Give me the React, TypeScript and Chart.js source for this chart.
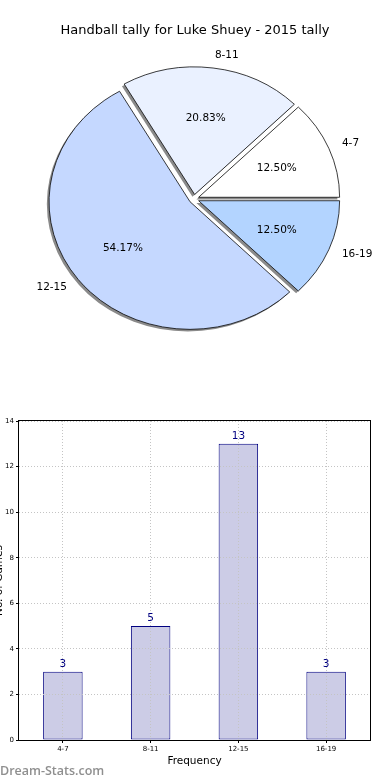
import React, { useEffect, useRef } from 'react';
import { Chart, registerables } from 'chart.js';

Chart.register(...registerables);

// ---- data ----
const TITLE = 'Handball tally for Luke Shuey - 2015 tally';
const categories = ['4-7', '8-11', '12-15', '16-19'];
const tallies = [3, 5, 13, 3];
const sliceColors = ['#ffffff', '#eaf1ff', '#c5d8ff', '#b3d4ff'];
const yTicks = [0, 2, 4, 6, 8, 10, 12, 14];
const X_TITLE = 'Frequency';
const Y_TITLE = 'No. of Games';
const WATERMARK = 'Dream-Stats.com';

// ---- style ----
const FONT = '"DejaVu Sans", Verdana, sans-serif';
const SY = 0.905; // vertical squash of the (non-equal-aspect) pie
const PIE_R = 141;
const EXPLODE = 5; // px each wedge is pulled out along its mid-angle
const SHADOW_DX = -2.2;
const SHADOW_DY = 2.2;
const pieOrder = [3, 2, 1, 0]; // Chart.js draws clockwise from 3 o'clock

function pieCenter(chart: any) {
  const a = chart.chartArea;
  return { cx: (a.left + a.right) / 2, cy: (a.top + a.bottom) / 2 };
}

const piePlugin = {
  id: 'pieDecor',
  afterUpdate(chart: any) {
    // explode each wedge: move its element centre outward along the mid-angle
    const arcs = chart.getDatasetMeta(0).data;
    const { cx, cy } = pieCenter(chart);
    arcs.forEach((a: any) => {
      const mid = (a.startAngle + a.endAngle) / 2;
      a.x = cx + Math.cos(mid) * EXPLODE;
      a.y = cy + Math.sin(mid) * EXPLODE;
    });
  },
  beforeDatasetsDraw(chart: any) {
    const ctx = chart.ctx;
    const arcs = chart.getDatasetMeta(0).data;
    const { cx, cy } = pieCenter(chart);
    ctx.save();
    // shadows
    ctx.save();
    ctx.translate(SHADOW_DX, SHADOW_DY);
    ctx.translate(cx, cy);
    ctx.scale(1, SY);
    ctx.translate(-cx, -cy);
    ctx.fillStyle = '#8a8a8a';
    arcs.forEach((a: any) => {
      ctx.beginPath();
      ctx.moveTo(a.x, a.y);
      ctx.arc(a.x, a.y, a.outerRadius, a.startAngle, a.endAngle);
      ctx.closePath();
      ctx.fill();
    });
    ctx.restore();
    ctx.translate(cx, cy);
    ctx.scale(1, SY);
    ctx.translate(-cx, -cy);
  },
  afterDatasetsDraw(chart: any) {
    const ctx = chart.ctx;
    ctx.restore();
    const arcs = chart.getDatasetMeta(0).data;
    const { cy } = pieCenter(chart);
    const total = tallies.reduce((s, v) => s + v, 0);
    ctx.save();
    ctx.fillStyle = '#000';
    ctx.textBaseline = 'middle';
    ctx.font = `10.5px ${FONT}`;
    arcs.forEach((a: any, k: number) => {
      const idx = pieOrder[k];
      const mid = (a.startAngle + a.endAngle) / 2;
      const c = Math.cos(mid);
      const s = Math.sin(mid);
      const r = a.outerRadius;
      const ox = a.x;
      const oy = cy + (a.y - cy) * SY;
      ctx.textAlign = c > 0 ? 'left' : 'right';
      ctx.fillText(categories[idx], ox + 1.1 * r * c, oy + 1.1 * r * s * SY);
      ctx.textAlign = 'center';
      const pct = (tallies[idx] / total) * 100;
      ctx.fillText(pct.toFixed(2) + '%', ox + 0.6 * r * c, oy + 0.6 * r * s * SY);
    });
    ctx.font = `13px ${FONT}`;
    ctx.textAlign = 'center';
    ctx.textBaseline = 'alphabetic';
    ctx.fillText(TITLE, chart.width / 2, 34);
    ctx.restore();
  },
};

const barPlugin = {
  id: 'barDecor',
  afterDraw(chart: any) {
    const ctx = chart.ctx;
    const { left, right, top, bottom } = chart.chartArea;
    ctx.save();
    // frame
    ctx.strokeStyle = '#000';
    ctx.lineWidth = 1;
    ctx.strokeRect(
      Math.round(left) - 0.5,
      Math.round(top) - 0.5,
      Math.round(right) - Math.round(left) + 1,
      Math.round(bottom) - Math.round(top) + 1
    );
    // value labels
    const meta = chart.getDatasetMeta(0);
    ctx.fillStyle = '#000080';
    ctx.font = `10.5px ${FONT}`;
    ctx.textAlign = 'center';
    ctx.textBaseline = 'alphabetic';
    meta.data.forEach((bar: any, i: number) => {
      ctx.fillText(String(tallies[i]), bar.x, bar.y - 5);
    });
    // x title
    ctx.fillStyle = '#000';
    ctx.font = `10.5px ${FONT}`;
    ctx.fillText(X_TITLE, (left + right) / 2, bottom + 24);
    // y title (mostly clipped at the left edge)
    ctx.save();
    ctx.translate(1.5, (top + bottom) / 2);
    ctx.rotate(-Math.PI / 2);
    ctx.textAlign = 'center';
    ctx.fillText(Y_TITLE, 0, 0);
    ctx.restore();
    // watermark
    ctx.fillStyle = '#8f8f8f';
    ctx.font = `600 12.5px "Open Sans", sans-serif`;
    ctx.textAlign = 'left';
    ctx.fillText(WATERMARK, 0, chart.height - 5);
    ctx.restore();
  },
};

export default function App() {
  const pieRef = useRef<HTMLCanvasElement>(null);
  const barRef = useRef<HTMLCanvasElement>(null);

  useEffect(() => {
    const pie = new Chart(pieRef.current as HTMLCanvasElement, {
      type: 'pie',
      data: {
        labels: pieOrder.map((i) => categories[i]),
        datasets: [
          {
            data: pieOrder.map((i) => tallies[i]),
            backgroundColor: pieOrder.map((i) => sliceColors[i]),
            borderColor: '#000',
            borderWidth: 0.8,
            offset: 0,
          },
        ],
      },
      options: {
        animation: false,
        responsive: false,
        events: [],
        rotation: 90,
        radius: PIE_R,
        layout: { padding: { left: 0, right: 2, top: 0, bottom: 2 } },
        plugins: { legend: { display: false }, tooltip: { enabled: false }, title: { display: false } },
      } as any,
      plugins: [piePlugin],
    });

    const gridCommon = { color: '#c4c4c4', z: 1, tickLength: 3, tickColor: '#000', drawTicks: true };
    const borderCommon = { display: false, color: '#000', width: 1, dash: [1, 2], z: 1 };
    const tickFont = { size: 7, family: FONT };

    const bar = new Chart(barRef.current as HTMLCanvasElement, {
      type: 'bar',
      data: {
        labels: categories,
        datasets: [
          {
            data: tallies,
            backgroundColor: '#ccccE6',
            borderColor: '#000080',
            borderWidth: 1,
            borderSkipped: false,
            barPercentage: 0.45,
            categoryPercentage: 1,
          },
        ],
      },
      options: {
        animation: false,
        responsive: false,
        events: [],
        layout: { padding: { top: 21, right: 20, left: 0, bottom: 0 } },
        plugins: { legend: { display: false }, tooltip: { enabled: false } },
        scales: {
          x: {
            offset: true,
            grid: { ...gridCommon, offset: false },
            border: borderCommon,
            ticks: { font: tickFont, color: '#000', padding: 2, maxRotation: 0, autoSkip: false },
            afterFit: (s: any) => {
              s.height = 40;
            },
          },
          y: {
            min: 0,
            max: 14,
            afterBuildTicks: (s: any) => {
              s.ticks = yTicks.map((v) => ({ value: v }));
            },
            grid: gridCommon,
            border: borderCommon,
            ticks: { font: tickFont, color: '#000', padding: 2 },
            afterFit: (s: any) => {
              s.width = 19;
            },
          },
        },
      } as any,
      plugins: [barPlugin],
    });

    return () => {
      pie.destroy();
      bar.destroy();
    };
  }, []);

  return (
    <div style={{ position: 'fixed', left: 0, top: 0, width: 390, height: 780, background: '#fff' }}>
      <canvas
        ref={pieRef}
        width={390}
        height={400}
        style={{ position: 'absolute', left: 0, top: 0, width: 390, height: 400, display: 'block' }}
      />
      <canvas
        ref={barRef}
        width={390}
        height={380}
        style={{ position: 'absolute', left: 0, top: 400, width: 390, height: 380, display: 'block' }}
      />
    </div>
  );
}
